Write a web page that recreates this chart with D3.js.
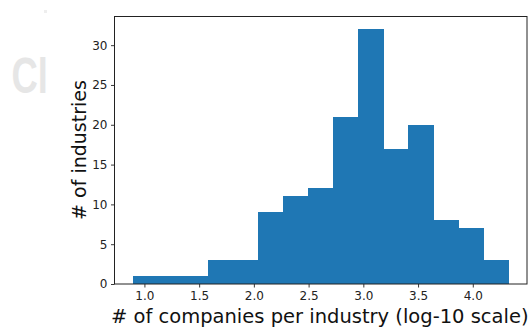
<!DOCTYPE html>
<html>
<head>
<meta charset="utf-8">
<script src="https://cdn.jsdelivr.net/npm/d3@7"></script>
<style>
  html, body { margin: 0; padding: 0; background: #fff; }
  svg { display: block; }
</style>
</head>
<body>
<svg id="chart" width="531" height="329"></svg>
<script>
// Histogram bin edges (log10 of # companies per industry)
const binEdges = [0.898, 1.126, 1.355, 1.583, 1.812, 2.040, 2.268, 2.497, 2.725, 2.954, 3.182, 3.411, 3.639, 3.867, 4.096, 4.324];
// Count of industries in each bin
const counts = [1, 1, 1, 3, 3, 9, 11, 12, 21, 32, 17, 20, 8, 7, 3];
const xTicks = [1.0, 1.5, 2.0, 2.5, 3.0, 3.5, 4.0];
const yTicks = [0, 5, 10, 15, 20, 25, 30];
const xLabel = "# of companies per industry (log-10 scale)";
const yLabel = "# of industries";

const svg = d3.select("#chart");
const pLeft = 114.5, pRight = 527, pTop = 16.5, pBottom = 284;
const font = "DejaVu Sans, sans-serif";

// watermark
const defs = svg.append("defs");
defs.append("clipPath").attr("id", "wm").append("rect").attr("x", 0).attr("y", 0).attr("width", 47.5).attr("height", 120);
svg.append("g").attr("clip-path", "url(#wm)")
  .append("text")
  .attr("transform", "translate(11.5,93) scale(0.76,1.05)")
  .attr("font-family", "Liberation Sans, sans-serif")
  .attr("font-weight", "bold").attr("font-size", 48)
  .attr("fill", "#e6e6e6").text("Cl");
svg.append("rect").attr("x", 44).attr("y", 10).attr("width", 3).attr("height", 3).attr("fill", "#eeeeee");

const xmin = binEdges[0], xmax = binEdges[binEdges.length - 1];
const pad = (xmax - xmin) * 0.05;
const x = d3.scaleLinear().domain([xmin - pad, xmax + pad]).range([pLeft, pRight]);
const ymax = d3.max(counts) * 1.05;
const y = d3.scaleLinear().domain([0, ymax]).range([pBottom, pTop]);

const bins = counts.map((c, i) => ({ x0: binEdges[i], x1: binEdges[i + 1], c }));
svg.append("g").attr("shape-rendering", "crispEdges").selectAll("rect").data(bins).join("rect")
  .attr("x", d => x(d.x0))
  .attr("width", d => x(d.x1) - x(d.x0) + 0.5)
  .attr("y", d => y(d.c))
  .attr("height", d => y(0) - y(d.c))
  .attr("fill", "#1f77b4");

// axes
const xAxis = d3.axisBottom(x).tickValues(xTicks).tickFormat(d3.format(".1f")).tickSizeOuter(0).tickSize(3.5).tickPadding(4);
const yAxis = d3.axisLeft(y).tickValues(yTicks).tickFormat(d3.format("d")).tickSizeOuter(0).tickSize(3.5).tickPadding(3.5);
const gx = svg.append("g").attr("transform", `translate(0,${pBottom})`).call(xAxis);
const gy = svg.append("g").attr("transform", `translate(${pLeft},0)`).call(yAxis);
[gx, gy].forEach(g => {
  g.select(".domain").remove();
  g.selectAll(".tick line").attr("stroke", "#222").attr("stroke-width", 0.9);
  g.selectAll(".tick text").attr("font-family", font).attr("font-size", 12).attr("fill", "#222");
});

// frame
svg.append("rect").attr("x", pLeft).attr("y", pTop).attr("width", pRight - pLeft).attr("height", pBottom - pTop)
  .attr("fill", "none").attr("stroke", "#222").attr("stroke-width", 1);

svg.append("text").attr("x", 111).attr("y", 323)
  .attr("text-anchor", "start").attr("font-family", font).attr("font-size", 19.5).attr("fill", "#111")
  .text(xLabel);
svg.append("text").attr("transform", `translate(86,150) rotate(-90)`)
  .attr("text-anchor", "middle").attr("font-family", font).attr("font-size", 19).attr("fill", "#111")
  .text(yLabel);
</script>
</body>
</html>
